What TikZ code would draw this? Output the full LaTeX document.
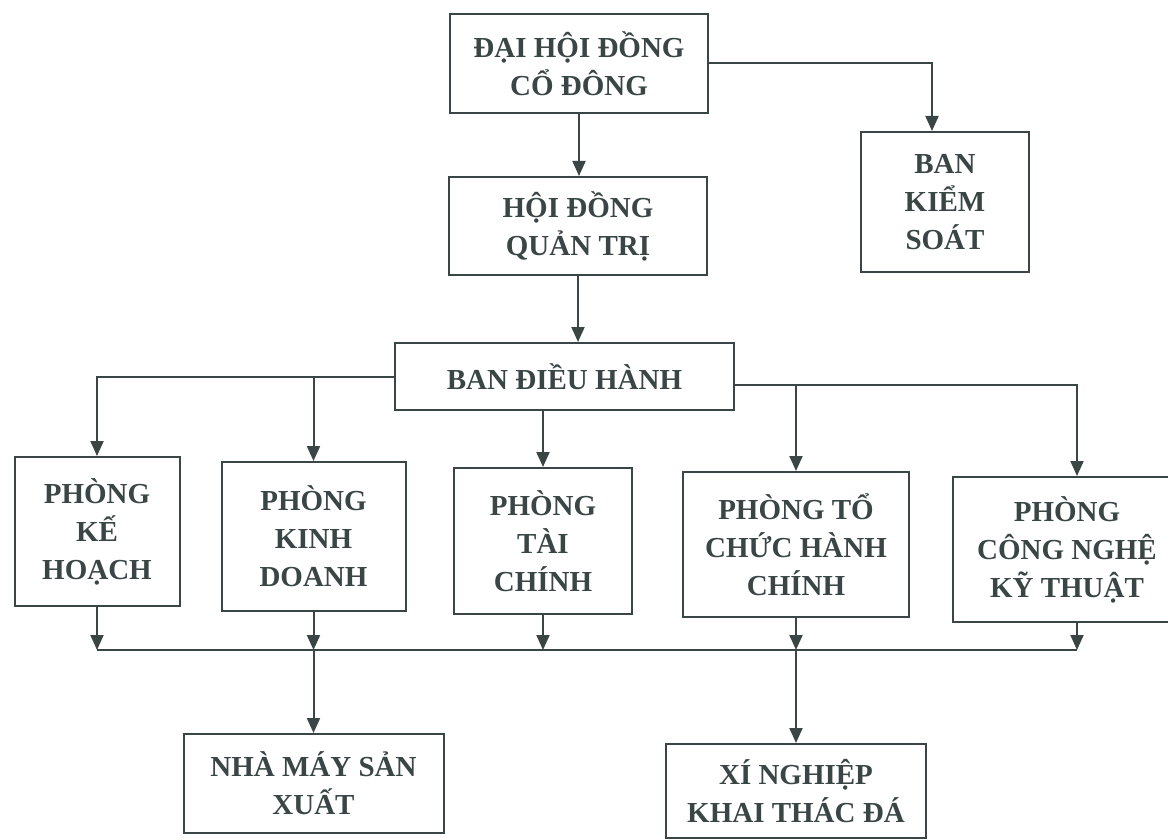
\documentclass[tikz,border=0pt]{standalone}
\usepackage{fontspec}
\setmainfont{Liberation Serif}
\usetikzlibrary{arrows.meta,math}
\definecolor{ink}{HTML}{3A4646}

\begin{document}
\begin{tikzpicture}[x=1pt,y=-1pt,
    box/.style={draw=ink,line width=2pt,inner sep=0pt,align=center,text=ink,
      font=\fontsize{29}{38}\selectfont\bfseries},
    arr/.style={draw=ink,line width=2pt,-{Triangle[length=15pt,width=13pt]}},
    bus/.style={draw=ink,line width=2pt}]
    % units are pixels of the scan, y grows downwards
    \tikzmath{\busy = 650; \kslot = 13; \cnslot = 10;}
    \useasboundingbox (0,0) rectangle (1168,840);
    \coordinate (busy) at (0,\busy);
    % top levels
    \node[box,minimum width=258pt,minimum height=99pt] (dhd) at (579,63.5) {ĐẠI HỘI ĐỒNG\\CỔ ĐÔNG};
    \node[box,minimum width=168pt,minimum height=140pt] (bks) at (945,202) {BAN\\KIỂM\\SOÁT};
    \node[box,minimum width=258pt,minimum height=98pt] (hdqt) at (578,226) {HỘI ĐỒNG\\QUẢN TRỊ};
    \node[box,minimum width=339pt,minimum height=67pt] (bdh) at (564.5,376.5) {BAN ĐIỀU HÀNH};
    % phong ban
    \node[box,minimum width=165pt,minimum height=149pt] (pkh) at (97,531.5) {PHÒNG\\KẾ\\HOẠCH};
    \node[box,minimum width=184pt,minimum height=149pt] (pkd) at (313.5,536.5) {PHÒNG\\KINH\\DOANH};
    \node[box,minimum width=178pt,minimum height=146pt] (ptc) at (543,541) {PHÒNG\\TÀI\\CHÍNH};
    \node[box,minimum width=226pt,minimum height=145pt] (ptchc) at (796,544.5) {PHÒNG TỔ\\CHỨC HÀNH\\CHÍNH};
    \node[box,minimum width=228pt,minimum height=145pt] (pcnkt) at (1067,549.5) {PHÒNG\\CÔNG NGHỆ\\KỸ THUẬT};
    % don vi truc thuoc
    \node[box,minimum width=260pt,minimum height=99pt] (nmsx) at (313.5,783.5) {NHÀ MÁY SẢN\\XUẤT};
    \node[box,minimum width=260pt,minimum height=94pt] (xnk) at (796,791) {XÍ NGHIỆP\\KHAI THÁC ĐÁ};
    %
    \draw[arr] (dhd.south) -- (dhd.south |- hdqt.north);
    \draw[arr] (dhd.east) -| ([xshift=-\kslot pt]bks.north);
    \draw[arr] (hdqt.south) -- (hdqt.south |- bdh.north);
    \coordinate (bdhR) at ([yshift=-8.5pt]bdh.east);
    \draw[arr] (bdh.west) -| (pkh.north);
    \draw[arr] (pkd.north |- bdh.west) -- (pkd.north);
    \draw[arr] (ptc.north |- bdh.south) -- (ptc.north);
    \draw[arr] (bdhR) -| ([xshift=\cnslot pt]pcnkt.north);
    \draw[arr] (ptchc.north |- bdhR) -- (ptchc.north);
    % bus below the phong ban
    \coordinate (busL) at (pkh.south |- busy);
    \coordinate (busR) at ([xshift=\cnslot pt]pcnkt.south |- busy);
    \draw[bus] (busL) -- (busR);
    \foreach \n in {pkh,pkd,ptc,ptchc}
      \draw[arr] (\n.south) -- (\n.south |- busy);
    \draw[arr] ([xshift=\cnslot pt]pcnkt.south) -- (busR);
    \draw[arr] (nmsx.north |- busy) -- (nmsx.north);
    \draw[arr] (xnk.north |- busy) -- (xnk.north);
\end{tikzpicture}
\end{document}
